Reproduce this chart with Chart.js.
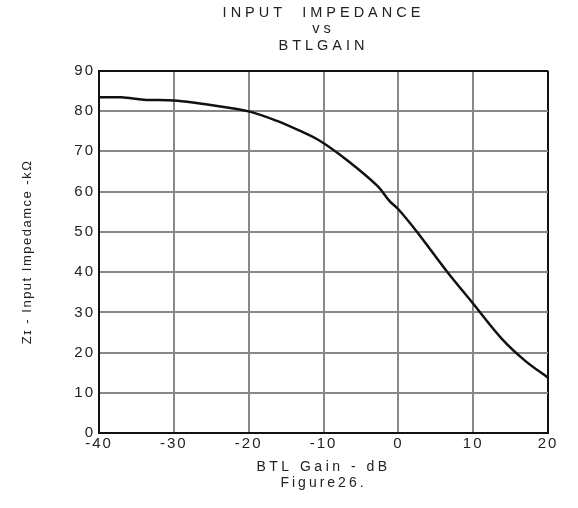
<!DOCTYPE html>
<html>
<head>
<meta charset="utf-8">
<script src="https://cdn.jsdelivr.net/npm/chart.js@4"></script>
<style>
  html, body { margin: 0; padding: 0; background: #fff; }
  #wrap { width: 578px; height: 508px; }
</style>
</head>
<body>
<div id="wrap"><canvas id="chart" width="578" height="508"></canvas></div>
<script>
// curve (gain dB -> impedance kOhm)
const gainDb = [-40, -37, -34, -30, -27, -24, -20, -16.3, -13.2, -10.5, -6.8, -2.8, -1.2, 0, 2.4, 6.6, 9.9, 13.9, 17, 20];
const impedance = [83.4, 83.4, 82.8, 82.6, 82.0, 81.2, 79.9, 77.6, 75.1, 72.6, 67.7, 61.4, 57.7, 55.6, 50.2, 39.9, 32.4, 23.3, 17.9, 13.8];
const titleLines = ['INPUT  IMPEDANCE', 'vs', 'BTLGAIN'];
const xTitle = 'BTL Gain - dB';
const yTitle = 'Zɪ - Input Impedamce -kΩ';
const caption = 'Figure26.';

const fontName = "'Liberation Sans', Arial, sans-serif";
const points = gainDb.map((g, i) => ({ x: g, y: impedance[i] }));

// the printed figure uses widely tracked type, so give each text its own letter spacing
const tracking = {};
titleLines.forEach(t => { tracking[t] = 4; });
tracking[xTitle] = 3.5;
tracking[caption] = 3;
tracking[yTitle] = 1.5;

const canvas = document.getElementById('chart');
const ctx = canvas.getContext('2d');
const rawFillText = ctx.fillText;
ctx.fillText = function (text, x, y, maxWidth) {
    const s = tracking[text] !== undefined ? tracking[text] : 2;
    this.letterSpacing = s + 'px';
    if (maxWidth === undefined) {
        rawFillText.call(this, text, x, y);
    } else {
        rawFillText.call(this, text, x, y, maxWidth);
    }
    this.letterSpacing = '0px';
};

const chart = new Chart(ctx, {
    type: 'line',
    data: {
        datasets: [{
            data: points,
            borderColor: '#111',
            borderWidth: 2.5,
            pointRadius: 0,
            tension: 0.35,
            fill: false
        }]
    },
    options: {
        responsive: false,
        animation: false,
        layout: { padding: { left: 0, right: 30, top: 0, bottom: 0 } },
        plugins: {
            legend: { display: false },
            tooltip: { enabled: false },
            title: {
                display: true,
                fullSize: false,
                text: titleLines,
                color: '#222',
                font: { family: fontName, size: 14.5, weight: 'normal', lineHeight: 1.12 },
                padding: { top: 5, bottom: 17 }
            },
            subtitle: {
                display: true,
                fullSize: false,
                position: 'bottom',
                text: caption,
                color: '#222',
                font: { family: fontName, size: 14, weight: 'normal', lineHeight: 1.2 },
                padding: { top: 0, bottom: 16 }
            }
        },
        scales: {
            x: {
                type: 'linear',
                min: -40,
                max: 20,
                afterFit: function (scale) { scale.height = 42; },
                ticks: { stepSize: 10, color: '#222', padding: 2, font: { family: fontName, size: 15 } },
                grid: {
                    drawTicks: false,
                    lineWidth: 2,
                    color: c => (c.tick && c.tick.value === 20) ? '#111' : '#888'
                },
                border: { color: '#111', width: 2 },
                title: {
                    display: true,
                    text: xTitle,
                    color: '#222',
                    font: { family: fontName, size: 14 },
                    padding: { top: 0, bottom: 0 }
                }
            },
            y: {
                min: 0,
                max: 90,
                afterFit: function (scale) { scale.width = 99; },
                ticks: { stepSize: 10, color: '#222', padding: 4, font: { family: fontName, size: 15 } },
                grid: {
                    drawTicks: false,
                    lineWidth: 2,
                    color: c => (c.tick && c.tick.value === 90) ? '#111' : '#888'
                },
                border: { color: '#111', width: 2 },
                title: {
                    display: true,
                    text: yTitle,
                    color: '#222',
                    font: { family: fontName, size: 13 },
                    padding: { top: 20, bottom: 0 }
                }
            }
        }
    }
});
</script>
</body>
</html>
